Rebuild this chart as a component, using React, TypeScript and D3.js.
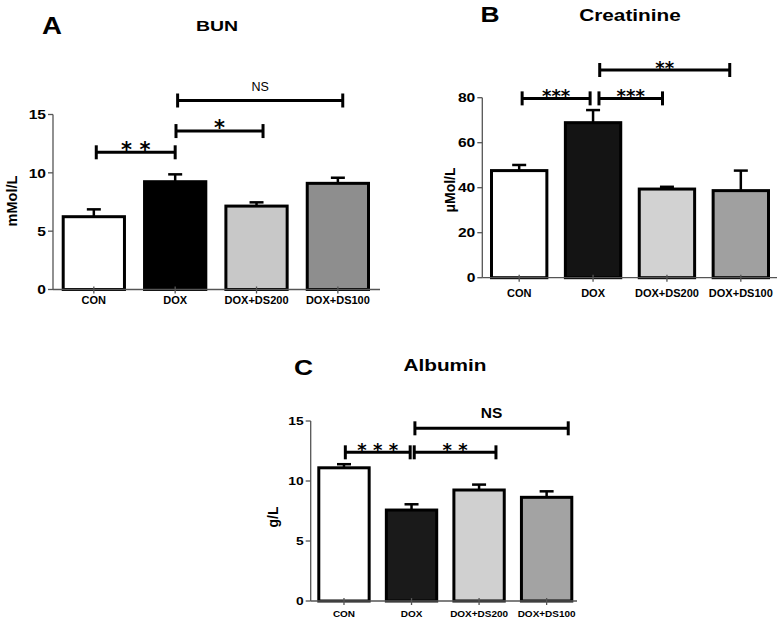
import React from 'react';
import * as d3 from 'd3';

const categories = ['CON', 'DOX', 'DOX+DS200', 'DOX+DS100'];

const bunMean = [6.24, 9.24, 7.15, 9.1];
const bunSem = [0.63, 0.63, 0.32, 0.48];
const creaMean = [47.6, 68.9, 39.4, 38.7];
const creaSem = [2.5, 5.6, 1.0, 8.9];
const albMean = [11.1, 7.58, 9.25, 8.64];
const albSem = [0.3, 0.48, 0.45, 0.5];

const bunTicks = [0, 5, 10, 15];
const creaTicks = [0, 20, 40, 60, 80];
const albTicks = [0, 5, 10, 15];

type Bracket = { from: number; to: number; value: number; label: string };

const bunBrackets: Bracket[] = [
  { from: 0.03, to: 1.0, value: 11.76, label: '* *' },
  { from: 1.01, to: 2.08, value: 13.58, label: '*' },
  { from: 1.03, to: 3.06, value: 16.2, label: 'NS' },
];
const creaBrackets: Bracket[] = [
  { from: 0.04, to: 0.96, value: 79.7, label: '***' },
  { from: 1.08, to: 1.94, value: 79.7, label: '***' },
  { from: 1.09, to: 2.85, value: 92.3, label: '**' },
];
const albBrackets: Bracket[] = [
  { from: 0.02, to: 0.98, value: 12.39, label: '* * *' },
  { from: 1.04, to: 2.25, value: 12.39, label: '* *' },
  { from: 1.05, to: 3.32, value: 14.39, label: 'NS' },
];

type Cfg = {
  letter: string;
  title: string;
  yLabel: string;
  means: number[];
  sems: number[];
  ticks: number[];
  domain: [number, number];
  brackets: Bracket[];
  fills: string[];
  axisLeft: number;
  axisRight: number;
  y0: number;
  yTop: number;
  barRange: [number, number];
  letterPos: [number, number, number];
  titlePos: [number, number, number];
  yLabelPos: [number, number, number];
  tickSize: number;
  catSize: number;
  catDy: number;
  nsBold: boolean;
  nsSize: number;
  starSize: number;
};

const FONT = '"Liberation Sans", Arial, sans-serif';

function T(props: {
  x: number; y: number; size: number; stretch?: number; weight?: string;
  anchor?: string; rotate?: number; family?: string; children: React.ReactNode;
}) {
  const { x, y, size, stretch = 1, weight = 'bold', anchor = 'middle', rotate = 0, family = FONT } = props;
  return (
    <text
      transform={`translate(${x},${y}) rotate(${rotate}) scale(${stretch},1)`}
      fontSize={size}
      fontWeight={weight}
      fontFamily={family}
      textAnchor={anchor}
      fill="#000"
    >
      {props.children}
    </text>
  );
}

function Panel({ c }: { c: Cfg }) {
  const y = d3.scaleLinear().domain(c.domain).range([c.y0, c.yTop]);
  const x = d3.scaleBand<string>().domain(categories).range(c.barRange).paddingInner(0.21).paddingOuter(0);
  const bw = x.bandwidth();
  const cx = (i: number) => (x(categories[i]) as number) + bw / 2;
  const bx = d3.scaleLinear().domain([0, 3]).range([cx(0), cx(3)]);
  const sw = 3;
  const capH = 14;
  return (
    <g>
      <T x={c.letterPos[0]} y={c.letterPos[1]} size={c.letterPos[2]} stretch={1.2}>{c.letter}</T>
      <T x={c.titlePos[0]} y={c.titlePos[1]} size={c.titlePos[2]} stretch={1.3}>{c.title}</T>
      <T x={c.yLabelPos[0]} y={c.yLabelPos[1]} size={c.yLabelPos[2]} rotate={-90}>{c.yLabel}</T>
      {c.means.map((m, i) => {
        const x0 = x(categories[i]) as number;
        const top = y(m);
        const errTop = y(m + c.sems[i]);
        return (
          <g key={i}>
            <line x1={cx(i)} x2={cx(i)} y1={top} y2={errTop} stroke="#000" strokeWidth={2.5} />
            <line x1={cx(i) - 7} x2={cx(i) + 7} y1={errTop} y2={errTop} stroke="#000" strokeWidth={2.5} />
            <rect
              x={x0 + sw / 2}
              y={top}
              width={bw - sw}
              height={c.y0 - top}
              fill={c.fills[i]}
              stroke="#000"
              strokeWidth={sw}
            />
          </g>
        );
      })}
      <line x1={c.axisLeft} x2={c.axisLeft} y1={c.yTop} y2={c.y0} stroke="#555" strokeWidth={1.3} />
      <line x1={c.axisLeft} x2={c.axisRight} y1={c.y0} y2={c.y0} stroke="#555" strokeWidth={1.3} />
      {c.ticks.map((t) => (
        <g key={t}>
          <line x1={c.axisLeft - 5} x2={c.axisLeft} y1={y(t)} y2={y(t)} stroke="#555" strokeWidth={1.3} />
          <T x={c.axisLeft - 7} y={y(t) + c.tickSize * 0.36} size={c.tickSize} stretch={1.2} anchor="end">{t}</T>
        </g>
      ))}
      {categories.map((cat, i) => (
        <g key={cat}>
          <line x1={cx(i)} x2={cx(i)} y1={c.y0 - 3} y2={c.y0 + 4} stroke="#555" strokeWidth={1.3} />
          <T x={cx(i)} y={c.y0 + c.catDy} size={c.catSize} stretch={1.05}>{cat}</T>
        </g>
      ))}
      {c.brackets.map((b, i) => {
        const x1 = bx(b.from);
        const x2 = bx(b.to);
        const yy = y(b.value);
        const isNS = b.label === 'NS';
        return (
          <g key={i}>
            <line x1={x1} x2={x2} y1={yy} y2={yy} stroke="#000" strokeWidth={3} />
            <line x1={x1} x2={x1} y1={yy - capH / 2} y2={yy + capH / 2} stroke="#000" strokeWidth={3} />
            <line x1={x2} x2={x2} y1={yy - capH / 2} y2={yy + capH / 2} stroke="#000" strokeWidth={3} />
            {isNS ? (
              <T x={(x1 + x2) / 2} y={yy - 10} size={c.nsSize} weight={c.nsBold ? 'bold' : 'normal'}>{b.label}</T>
            ) : (
              <T x={(x1 + x2) / 2} y={yy + c.starSize * 0.2} size={c.starSize} weight="bold" family='"DejaVu Sans", sans-serif'>{b.label}</T>
            )}
          </g>
        );
      })}
    </g>
  );
}

const panelA: Cfg = {
  letter: 'A', title: 'BUN', yLabel: 'mMol/L',
  means: bunMean, sems: bunSem, ticks: bunTicks, domain: [0, 15], brackets: bunBrackets,
  fills: ['#ffffff', '#000000', '#c8c8c8', '#8e8e8e'],
  axisLeft: 53, axisRight: 380, y0: 289.5, yTop: 114.5, barRange: [61.7, 370],
  letterPos: [52, 33.5, 23], titlePos: [217, 31, 15], yLabelPos: [17, 201, 14.5],
  tickSize: 13, catSize: 10.5, catDy: 14.5, nsBold: false, nsSize: 12.5, starSize: 21,
};
const panelB: Cfg = {
  letter: 'B', title: 'Creatinine', yLabel: 'μMol/L',
  means: creaMean, sems: creaSem, ticks: creaTicks, domain: [0, 80], brackets: creaBrackets,
  fills: ['#ffffff', '#141414', '#d2d2d2', '#a0a0a0'],
  axisLeft: 482.3, axisRight: 777, y0: 277.7, yTop: 97.7, barRange: [490, 770],
  letterPos: [490, 22, 22], titlePos: [630, 21, 16], yLabelPos: [455, 190, 14],
  tickSize: 13, catSize: 10.5, catDy: 19, nsBold: false, nsSize: 12, starSize: 18,
};
const panelC: Cfg = {
  letter: 'C', title: 'Albumin', yLabel: 'g/L',
  means: albMean, sems: albSem, ticks: albTicks, domain: [0, 15], brackets: albBrackets,
  fills: ['#ffffff', '#1a1a1a', '#d0d0d0', '#a3a3a3'],
  axisLeft: 310.7, axisRight: 577, y0: 601, yTop: 421, barRange: [317.3, 573.3],
  letterPos: [303.5, 374.5, 22], titlePos: [445, 371, 16], yLabelPos: [278, 517, 14],
  tickSize: 11.5, catSize: 9.5, catDy: 15.5, nsBold: true, nsSize: 15.5, starSize: 18,
};

export default function App() {
  return (
    <svg
      width={781}
      height={621}
      viewBox="0 0 781 621"
      style={{ position: 'absolute', left: 0, top: 0, background: '#fff' }}
    >
      <rect width={781} height={621} fill="#fff" />
      <Panel c={panelA} />
      <Panel c={panelB} />
      <Panel c={panelC} />
    </svg>
  );
}
